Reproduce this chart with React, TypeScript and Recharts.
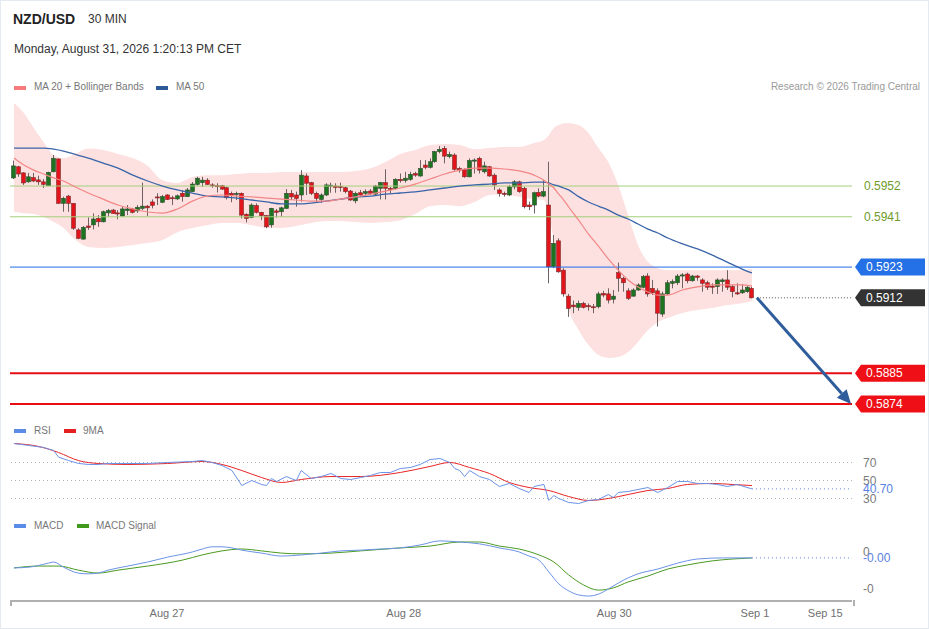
import React from 'react';
import { ComposedChart, Bar, Line, Area, XAxis, YAxis, ReferenceLine } from 'recharts';

const FONT = '"Liberation Sans", Arial, Helvetica, sans-serif';

// 30 min candles, oldest first
const opens = [
  0.59549, 0.59589, 0.59567, 0.59535, 0.5955, 0.59542, 0.59535, 0.59521, 0.59571, 0.59617,
  0.59458, 0.59484, 0.59458, 0.59363, 0.5933, 0.59377, 0.59381, 0.59404, 0.59392, 0.59424,
  0.59434, 0.59424, 0.59413, 0.59432, 0.59438, 0.59431, 0.5944, 0.59448, 0.59463, 0.59481,
  0.59462, 0.59488, 0.59478, 0.59474, 0.59494, 0.59482, 0.595, 0.59526, 0.59532, 0.59541,
  0.59524, 0.59521, 0.59521, 0.59514, 0.59494, 0.5949, 0.59494, 0.59419, 0.59408, 0.5945,
  0.59426, 0.59414, 0.59381, 0.59431, 0.59428, 0.5944, 0.59494, 0.59488, 0.59488, 0.59556,
  0.59532, 0.59494, 0.59472, 0.59488, 0.5952, 0.5952, 0.59519, 0.59514, 0.59502, 0.59467,
  0.59496, 0.59494, 0.59502, 0.59491, 0.59512, 0.59532, 0.59512, 0.59512, 0.59544, 0.5954,
  0.59544, 0.59565, 0.59556, 0.59595, 0.59587, 0.59607, 0.59643, 0.59655, 0.59625, 0.59631,
  0.59583, 0.5958, 0.59553, 0.59609, 0.59619, 0.59571, 0.59589, 0.59559, 0.59506, 0.59494,
  0.59488, 0.59517, 0.59535, 0.59512, 0.59452, 0.59452, 0.59497, 0.59484, 0.59452, 0.59231,
  0.59324, 0.59219, 0.59126, 0.59094, 0.59086, 0.591, 0.59092, 0.59088, 0.59088, 0.59136,
  0.59134, 0.59115, 0.5921, 0.5919, 0.59145, 0.59126, 0.59148, 0.59158, 0.59198, 0.59154,
  0.59145, 0.59062, 0.59134, 0.59172, 0.59174, 0.59198, 0.59205, 0.59181, 0.59198, 0.59184,
  0.59174, 0.59162, 0.5916, 0.59178, 0.59184, 0.5916, 0.59138, 0.59138, 0.59142, 0.59154,
];
const highs = [
  0.59611, 0.59592, 0.5957, 0.59567, 0.59567, 0.59557, 0.59545, 0.59571, 0.59631, 0.59618,
  0.59482, 0.59488, 0.59459, 0.59369, 0.59377, 0.59408, 0.59422, 0.59416, 0.59432, 0.59438,
  0.59438, 0.59434, 0.59446, 0.59452, 0.59442, 0.59452, 0.59532, 0.59452, 0.59472, 0.59494,
  0.59488, 0.59491, 0.59485, 0.5949, 0.59506, 0.59513, 0.59534, 0.59553, 0.59553, 0.59548,
  0.5953, 0.5953, 0.59524, 0.59517, 0.595, 0.595, 0.59497, 0.59422, 0.59458, 0.59458,
  0.59428, 0.59416, 0.59442, 0.59438, 0.59446, 0.59509, 0.59506, 0.595, 0.59577, 0.59565,
  0.59535, 0.595, 0.59494, 0.5953, 0.59532, 0.5953, 0.59532, 0.59517, 0.59506, 0.595,
  0.59506, 0.59508, 0.59509, 0.59524, 0.59535, 0.5958, 0.59517, 0.59548, 0.59565, 0.59571,
  0.59571, 0.59571, 0.59613, 0.59613, 0.59619, 0.59646, 0.59663, 0.59663, 0.59643, 0.59637,
  0.59589, 0.59583, 0.59619, 0.59619, 0.59625, 0.59607, 0.59592, 0.59565, 0.59512, 0.595,
  0.59524, 0.59541, 0.59539, 0.59517, 0.59464, 0.595, 0.59512, 0.59541, 0.59607, 0.59345,
  0.59333, 0.59226, 0.59134, 0.5911, 0.5911, 0.59106, 0.591, 0.59098, 0.59142, 0.59145,
  0.59154, 0.59148, 0.59246, 0.59196, 0.59154, 0.59154, 0.59172, 0.59202, 0.59208, 0.59184,
  0.59154, 0.59142, 0.59184, 0.59186, 0.59205, 0.59208, 0.5921, 0.59202, 0.59202, 0.5919,
  0.59181, 0.59172, 0.5919, 0.5919, 0.59219, 0.59166, 0.59172, 0.59169, 0.59162, 0.5916,
];
const lows = [
  0.59545, 0.59553, 0.59524, 0.59532, 0.59534, 0.59524, 0.59513, 0.59521, 0.59569, 0.59456,
  0.59428, 0.59428, 0.59363, 0.5933, 0.59329, 0.59363, 0.59365, 0.59374, 0.5939, 0.5941,
  0.5942, 0.59401, 0.5941, 0.59416, 0.59422, 0.59424, 0.59434, 0.59413, 0.5944, 0.59452,
  0.59459, 0.5947, 0.59452, 0.5947, 0.59464, 0.59481, 0.59499, 0.59521, 0.59517, 0.59524,
  0.59514, 0.59497, 0.59506, 0.59472, 0.59462, 0.5947, 0.59404, 0.5939, 0.59405, 0.59422,
  0.59398, 0.59369, 0.59371, 0.59407, 0.5941, 0.59438, 0.5947, 0.59446, 0.59464, 0.59488,
  0.59488, 0.59464, 0.5946, 0.59484, 0.59496, 0.59496, 0.595, 0.59494, 0.59467, 0.59458,
  0.59484, 0.59484, 0.59488, 0.59488, 0.59472, 0.59472, 0.59494, 0.59508, 0.59532, 0.59532,
  0.59539, 0.59553, 0.59553, 0.5958, 0.59583, 0.59603, 0.59637, 0.59601, 0.59619, 0.59575,
  0.59568, 0.5955, 0.59551, 0.59565, 0.59565, 0.59565, 0.59553, 0.59506, 0.59482, 0.59482,
  0.59484, 0.59508, 0.59496, 0.5944, 0.59434, 0.59422, 0.5948, 0.5948, 0.59172, 0.59226,
  0.5921, 0.59124, 0.59052, 0.59065, 0.59074, 0.59082, 0.59074, 0.59065, 0.59082, 0.59122,
  0.591, 0.591, 0.59142, 0.59142, 0.59112, 0.59124, 0.59145, 0.59154, 0.59124, 0.5913,
  0.59017, 0.59052, 0.5913, 0.59154, 0.59166, 0.59154, 0.59172, 0.59178, 0.59181, 0.59142,
  0.59148, 0.59134, 0.59134, 0.59142, 0.59148, 0.59122, 0.5913, 0.59134, 0.59138, 0.59118,
];
const closes = [
  0.59592, 0.59563, 0.59531, 0.59553, 0.59538, 0.59535, 0.59526, 0.59569, 0.59619, 0.59458,
  0.59476, 0.59458, 0.59369, 0.59333, 0.59372, 0.59372, 0.59402, 0.59392, 0.59428, 0.59432,
  0.59422, 0.5942, 0.59438, 0.59438, 0.59426, 0.59444, 0.59448, 0.59442, 0.59451, 0.59478,
  0.59482, 0.59472, 0.59476, 0.59485, 0.59482, 0.59506, 0.59527, 0.59548, 0.59541, 0.59526,
  0.59521, 0.59519, 0.59509, 0.59478, 0.59488, 0.59494, 0.59416, 0.59404, 0.59452, 0.59426,
  0.59414, 0.59374, 0.5944, 0.59426, 0.59442, 0.59494, 0.59481, 0.59476, 0.59559, 0.5953,
  0.59494, 0.59476, 0.59488, 0.59524, 0.59523, 0.59515, 0.59515, 0.595, 0.5947, 0.59494,
  0.59488, 0.595, 0.59494, 0.5952, 0.59532, 0.59512, 0.59508, 0.59544, 0.59539, 0.59548,
  0.59562, 0.59559, 0.59583, 0.59587, 0.59607, 0.59643, 0.59651, 0.59627, 0.59633, 0.5958,
  0.59577, 0.59553, 0.59611, 0.59613, 0.59577, 0.59592, 0.59556, 0.59524, 0.59494, 0.5949,
  0.59517, 0.59535, 0.595, 0.59446, 0.59446, 0.59496, 0.59484, 0.595, 0.59231, 0.59315,
  0.59213, 0.59134, 0.59082, 0.59088, 0.591, 0.59086, 0.59088, 0.59085, 0.59134, 0.5913,
  0.59112, 0.59126, 0.5919, 0.59174, 0.59118, 0.59148, 0.59166, 0.59196, 0.59134, 0.59138,
  0.59065, 0.59134, 0.59174, 0.59178, 0.59198, 0.59202, 0.59181, 0.59198, 0.59193, 0.59172,
  0.59158, 0.59158, 0.59184, 0.59184, 0.59158, 0.59142, 0.59134, 0.59148, 0.59158, 0.5912,
];

// MA 20, Bollinger bands and MA 50, read at these candle indices
const bandIdx = [
  0, 2, 4, 6, 8, 10, 12, 15, 18, 21, 24, 27, 30, 33, 36, 39, 42, 45, 48, 51,
  54, 57, 60, 63, 66, 69, 72, 75, 78, 81, 84, 87, 90, 93, 96, 99, 102, 105, 107, 108,
  109, 110, 111, 112, 114, 116, 118, 120, 122, 124, 126, 128, 130, 132, 135, 138, 141, 144, 147, 149,
];
const bbUpper = [
  0.59817, 0.59781, 0.59728, 0.59677, 0.59631, 0.5962, 0.59631, 0.59654, 0.59649, 0.59635,
  0.5962, 0.59592, 0.59541, 0.59531, 0.59552, 0.59559, 0.59559, 0.59563, 0.59567, 0.59567,
  0.5957, 0.5957, 0.5957, 0.5957, 0.5957, 0.59574, 0.59584, 0.59606, 0.59635, 0.59649,
  0.59667, 0.5967, 0.59667, 0.59652, 0.59656, 0.5966, 0.5966, 0.59674, 0.59685, 0.59703,
  0.59728, 0.59738, 0.59745, 0.59745, 0.59738, 0.5971, 0.59656, 0.59606, 0.59524, 0.59416,
  0.59309, 0.59248, 0.59227, 0.59219, 0.59219, 0.59219, 0.59219, 0.59219, 0.59219, 0.59223,
];
const bbLower = [
  0.59427, 0.59423, 0.5942, 0.59409, 0.59391, 0.5937, 0.59334, 0.59302, 0.59298, 0.59302,
  0.59309, 0.59316, 0.59327, 0.59355, 0.5937, 0.5938, 0.59388, 0.59388, 0.5938, 0.5937,
  0.5937, 0.59377, 0.59388, 0.59395, 0.59395, 0.59391, 0.59388, 0.59391, 0.59398, 0.5942,
  0.59448, 0.59452, 0.59448, 0.59463, 0.59488, 0.59491, 0.59481, 0.59473, 0.5947, 0.59416,
  0.59327, 0.59237, 0.59148, 0.59076, 0.59005, 0.58951, 0.58915, 0.58905, 0.58908, 0.58926,
  0.58962, 0.59005, 0.59033, 0.59048, 0.59066, 0.59076, 0.59084, 0.59094, 0.59101, 0.59109,
];
const ma20 = [
  0.5962, 0.59595, 0.59577, 0.59563, 0.59549, 0.59538, 0.5952, 0.59495, 0.59473, 0.59452,
  0.59438, 0.59427, 0.59423, 0.59438, 0.59466, 0.59484, 0.59488, 0.59484, 0.59481, 0.59477,
  0.59473, 0.5947, 0.59466, 0.59466, 0.59473, 0.59481, 0.59491, 0.59502, 0.59513, 0.59527,
  0.59545, 0.59563, 0.59577, 0.59584, 0.59584, 0.59581, 0.59574, 0.59559, 0.59541, 0.59527,
  0.59513, 0.59491, 0.5947, 0.59445, 0.59398, 0.59348, 0.59305, 0.59259, 0.59219, 0.59184,
  0.59159, 0.59141, 0.5913, 0.5913, 0.59148, 0.59159, 0.59166, 0.59166, 0.59166, 0.59162,
];
const ma50 = [
  0.59656, 0.59656, 0.59656, 0.59656, 0.59652, 0.59645, 0.59635, 0.5962, 0.59602, 0.59584,
  0.59559, 0.59538, 0.5952, 0.59506, 0.59495, 0.59484, 0.59481, 0.59477, 0.5947, 0.59463,
  0.59456, 0.59456, 0.59459, 0.59466, 0.59473, 0.59481, 0.59484, 0.59491, 0.59495, 0.59499,
  0.59506, 0.59513, 0.5952, 0.59524, 0.59527, 0.59531, 0.59531, 0.59534, 0.59534, 0.59531,
  0.59524, 0.5952, 0.59513, 0.59506, 0.59482, 0.59463, 0.59448, 0.59434, 0.59416, 0.59402,
  0.59384, 0.59366, 0.59352, 0.59334, 0.59313, 0.59295, 0.59273, 0.59248, 0.59223, 0.59209,
];

// RSI and its 9 period average
const rsiIdx = [
  0, 3, 6, 8, 9, 11, 13, 15, 17, 19, 23, 27, 31, 36, 38, 40, 42, 44, 46, 48,
  50, 51, 52, 53, 55, 57, 58, 60, 62, 64, 66, 68, 70, 72, 74, 76, 78, 80, 82, 84,
  86, 88, 89, 90, 91, 92, 94, 96, 98, 100, 102, 104, 105, 107, 108, 109, 110, 112, 114, 116,
  118, 120, 121, 122, 124, 126, 128, 130, 132, 134, 136, 138, 140, 142, 144, 146, 149,
];
const rsiVals = [
  91.1, 88.9, 86.7, 83.3, 76, 72.2, 69, 67.8, 67.8, 68.9, 68.9, 68.9, 70, 71.1, 72.2, 70, 66.7, 61.1, 44.4, 50,
  45.6, 44.4, 52.2, 48.9, 54.4, 50, 61.1, 52.2, 54.4, 57.8, 52.2, 51.1, 53.3, 55.6, 58.9, 58.9, 63.3, 64.4, 67.8, 73.3,
  74.4, 70, 63.3, 61.1, 54.4, 61.1, 54.4, 51.1, 43.3, 46.7, 41.1, 36.7, 43.3, 45.6, 27.8, 33.3, 30, 25.6, 24.4, 27.8,
  28.9, 34.4, 31.1, 36.7, 37.8, 40, 42.2, 36.7, 42.2, 48.9, 48.9, 46.7, 46.7, 45.6, 43.3, 45.6, 40.7,
];
const rsiMaIdx = [
  0, 5, 9, 13, 17, 23, 31, 38, 42, 46, 50, 54, 58, 64, 70, 78, 84, 88, 92, 96,
  100, 104, 108, 112, 116, 120, 124, 128, 132, 136, 141, 145, 149,
];
const rsiMaVals = [
  91.1, 87.8, 81.1, 72.2, 68.9, 67.8, 68.9, 71.1, 67.8, 61.1, 53.3, 47.8, 51.1, 54.4, 54.4, 58.9, 65.6, 70, 64.4, 57.8,
  47.8, 42.2, 38.9, 32.2, 27.8, 30, 34.4, 38.9, 41.1, 45.6, 46.7, 45.6, 44.4,
];
const rsiLevels = [70, 50, 30];

// MACD and signal line
const macdIdx = [
  0, 3, 7, 8, 10, 13, 15, 17, 19, 23, 27, 31, 36, 38, 40, 42, 44, 46, 50, 54,
  58, 62, 66, 70, 74, 78, 82, 86, 90, 94, 98, 102, 104, 106, 108, 110, 112, 114, 116, 118,
  120, 122, 124, 126, 130, 134, 138, 143, 147, 149,
];
const macdVals = [
  -0.00043, -0.00041, -0.0003, -0.00027, -0.00041, -0.00057, -0.00059, -0.00057, -0.00049, -0.00038,
  -0.00027, -0.00014, 0, 0.00008, 0.00014, 0.00014, 0.00011, 0.00005, -0.00003, -0.00011,
  -0.00008, -0.00003, 0.00003, 0.00005, 0.00008, 0.00011, 0.00019, 0.0003, 0.00027, 0.00022,
  0.00011, 0, -0.00011, -0.00022, -0.00054, -0.00086, -0.00105, -0.00116, -0.00119, -0.00114,
  -0.001, -0.00084, -0.0007, -0.00059, -0.00046, -0.0003, -0.00019, -0.00016, -0.00016, -0.00016,
];
const signalIdx = [
  0, 5, 9, 13, 17, 21, 27, 34, 38, 42, 46, 50, 54, 58, 64, 70, 78, 84, 90, 94,
  98, 102, 106, 109, 112, 115, 118, 121, 124, 128, 132, 136, 141, 145, 149,
];
const signalVals = [
  -0.00043, -0.00038, -0.00038, -0.00049, -0.00057, -0.00049, -0.00038, -0.00022, -0.00008, 0.00003,
  0.00008, 0.00003, -0.00003, -0.00005, -0.00003, 0.00003, 0.00011, 0.00016, 0.00027, 0.00027,
  0.00016, 0.00008, -0.00008, -0.00027, -0.00062, -0.00089, -0.00103, -0.00097, -0.00081, -0.00065,
  -0.00046, -0.00035, -0.00024, -0.00019, -0.00016,
];

// right side price levels
const levelValues = [0.5952, 0.5941, 0.5923, 0.5912, 0.5885, 0.5874];
const levelKinds = ['resist', 'resist', 'pivot', 'last', 'target', 'target'];
const targetPrice = 0.5874;

// time axis
const dayTicks = [30.9, 78.7, 121.2, 149.6, 163.8];
const dayLabels = ['Aug 27', 'Aug 28', 'Aug 30', 'Sep 1', 'Sep 15'];

const X_DOMAIN: [number, number] = [-0.8, 169.2];
const LAST = opens.length - 1;

const rows: any[] = opens.map((o, i) => ({ i, open: o, high: highs[i], low: lows[i], close: closes[i] }));
bandIdx.forEach((k, j) => {
  rows[k].band = [bbLower[j], bbUpper[j]];
  rows[k].ma20 = ma20[j];
  rows[k].ma50 = ma50[j];
});
rsiIdx.forEach((k, j) => { rows[k].rsi = rsiVals[j]; });
rsiMaIdx.forEach((k, j) => { rows[k].rsiMa = rsiMaVals[j]; });
macdIdx.forEach((k, j) => { rows[k].macd = macdVals[j]; });
signalIdx.forEach((k, j) => { rows[k].signal = signalVals[j]; });

const lastRsi = rsiVals[rsiVals.length - 1];
const lastMacd = macdVals[macdVals.length - 1];

const levelStyle: Record<string, any> = {
  resist: { line: '#a3d07a', width: 1, box: null, text: '#6f9c2b' },
  pivot: { line: '#1f6de8', width: 1, box: '#2470e6', text: '#fff' },
  last: { line: null, width: 1, box: '#333333', text: '#fff' },
  target: { line: '#e80d14', width: 2, box: '#ee1016', text: '#fff' },
};

const Candle = (p: any) => {
  const { x, y, width, height, payload } = p;
  if (!payload || height == null || isNaN(y)) return null;
  const top = Math.min(y, y + height);
  const h = Math.abs(height);
  const { open, close, high, low } = payload;
  const span = high - low || 1e-9;
  const py = (v: number) => top + ((high - v) / span) * h;
  const cx = Math.round(x + width / 2) + 0.5;
  const up = close >= open;
  const b1 = py(Math.max(open, close));
  const b2 = py(Math.min(open, close));
  return (
    <g>
      <line x1={cx} x2={cx} y1={top} y2={top + h} stroke="#6e6262" strokeWidth={1} />
      <rect
        x={cx - 2}
        y={b1}
        width={4}
        height={Math.max(1, b2 - b1)}
        fill={up ? '#1d7420' : '#e3141b'}
        stroke={up ? '#2f4a2f' : '#7a2b2b'}
        strokeWidth={0.6}
      />
    </g>
  );
};

const PriceTag = (p: any) => {
  const { y, payload } = p;
  const idx = levelValues.indexOf(payload.value);
  const st = levelStyle[levelKinds[idx]];
  const label = payload.value.toFixed(4);
  if (!st.box) {
    return (
      <text x={864} y={y} dy={4} fontSize={12} fill={st.text} fontFamily={FONT}>
        {label}
      </text>
    );
  }
  const x0 = 855;
  const d = `M${x0},${y} L${x0 + 6},${y - 8.5} L925,${y - 8.5} L925,${y + 8.5} L${x0 + 6},${y + 8.5} Z`;
  return (
    <g>
      <path d={d} fill={st.box} />
      <text x={866} y={y} dy={4} fontSize={12} fill={st.text} fontFamily={FONT}>
        {label}
      </text>
    </g>
  );
};

const RsiTick = (p: any) => {
  const { y, payload } = p;
  const cur = payload.value === lastRsi;
  return (
    <text x={863} y={y} dy={4} fontSize={12} fill={cur ? '#5a7fe0' : '#7a7a7a'} fontFamily={FONT}>
      {cur ? payload.value.toFixed(2) : payload.value}
    </text>
  );
};

const MacdTick = (p: any) => {
  const { y, payload } = p;
  const cur = payload.value === lastMacd;
  return (
    <text x={863} y={y} dy={4} fontSize={12} fill={cur ? '#5a7fe0' : '#7a7a7a'} fontFamily={FONT}>
      {cur ? payload.value.toFixed(2) : payload.value.toFixed(0)}
    </text>
  );
};

const Arrow = (p: any) => {
  const { x1, y1, x2, y2 } = p;
  const ang = Math.atan2(y2 - y1, x2 - x1);
  const len = 14;
  const half = 6.5;
  const bx = x2 - len * Math.cos(ang);
  const by = y2 - len * Math.sin(ang);
  const px = -Math.sin(ang) * half;
  const py = Math.cos(ang) * half;
  return (
    <g>
      <line x1={x1} y1={y1} x2={bx} y2={by} stroke="#2f5d9b" strokeWidth={3} />
      <polygon points={`${x2},${y2} ${bx + px},${by + py} ${bx - px},${by - py}`} fill="#2f5d9b" />
    </g>
  );
};

const Swatch = ({ x, y, color }: { x: number; y: number; color: string }) => (
  <div style={{ position: 'absolute', left: x, top: y, width: 12, height: 4, background: color }} />
);

const Txt = ({ x, y, size, color, bold, children }: any) => (
  <div
    style={{
      position: 'absolute', left: x, top: y, fontSize: size, color, fontWeight: bold ? 700 : 400,
      whiteSpace: 'nowrap', lineHeight: 1,
    }}
  >
    {children}
  </div>
);

export default function App() {
  return (
    <div
      style={{
        position: 'absolute', left: 0, top: 0, width: 929, height: 629, background: '#fff',
        border: '1px solid #e4eaef', boxSizing: 'border-box', fontFamily: FONT, overflow: 'hidden',
      }}
    >
      <Txt x={12} y={11} size={14} color="#222" bold>NZD/USD</Txt>
      <Txt x={87} y={12} size={12} color="#333">30 MIN</Txt>
      <Txt x={13} y={42} size={12} color="#333">Monday, August 31, 2026 1:20:13 PM CET</Txt>

      <Swatch x={13} y={85} color="#f77b7b" />
      <Txt x={33} y={81} size={10} color="#777">MA 20 + Bollinger Bands</Txt>
      <Swatch x={155} y={85} color="#2f5a9a" />
      <Txt x={175} y={81} size={10} color="#777">MA 50</Txt>
      <div style={{ position: 'absolute', right: 8, top: 81, fontSize: 10, color: '#9a9a9a', lineHeight: 1 }}>
        Research © 2026 Trading Central
      </div>

      <div style={{ position: 'absolute', left: -1, top: 97 }}>
        <ComposedChart width={929} height={320} data={rows} margin={{ top: 0, right: 0, bottom: 0, left: 10 }}>
          <XAxis dataKey="i" type="number" domain={X_DOMAIN} allowDataOverflow hide />
          <YAxis
            orientation="right"
            width={77}
            type="number"
            domain={[0.5869, 0.59835]}
            allowDataOverflow
            ticks={levelValues}
            interval={0}
            axisLine={false}
            tickLine={false}
            tick={<PriceTag />}
          />
          <Area
            dataKey="band"
            type="monotone"
            fill="#fde1e1"
            fillOpacity={1}
            stroke="none"
            connectNulls
            isAnimationActive={false}
          />
          {levelValues.map((v, idx) => {
            const st = levelStyle[levelKinds[idx]];
            return st.line ? (
              <ReferenceLine key={v} y={v} stroke={st.line} strokeWidth={st.width} />
            ) : null;
          })}
          <ReferenceLine
            segment={[{ x: LAST + 1, y: closes[LAST] }, { x: X_DOMAIN[1], y: closes[LAST] }]}
            stroke="#555"
            strokeDasharray="1 2"
          />
          <Line dataKey="ma50" type="monotone" stroke="#3a64a8" strokeWidth={1.3} dot={false} connectNulls isAnimationActive={false} />
          <Line dataKey="ma20" type="monotone" stroke="#f28585" strokeWidth={1.2} dot={false} connectNulls isAnimationActive={false} />
          <Bar dataKey={(d: any) => [d.low, d.high]} barSize={4} shape={<Candle />} isAnimationActive={false} />
          <ReferenceLine
            segment={[{ x: LAST + 1, y: closes[LAST] }, { x: 169, y: targetPrice }]}
            shape={<Arrow />}
          />
        </ComposedChart>
      </div>

      <Swatch x={13} y={428} color="#5b8de8" />
      <Txt x={33} y={425} size={10} color="#777">RSI</Txt>
      <Swatch x={63} y={428} color="#e52020" />
      <Txt x={82} y={425} size={10} color="#777">9MA</Txt>

      <div style={{ position: 'absolute', left: -1, top: 438.5 }}>
        <ComposedChart width={929} height={67.5} data={rows} margin={{ top: 0, right: 0, bottom: 0, left: 10 }}>
          <XAxis dataKey="i" type="number" domain={X_DOMAIN} allowDataOverflow hide />
          <YAxis
            orientation="right"
            width={77}
            type="number"
            domain={[20, 95]}
            allowDataOverflow
            ticks={[70, 50, lastRsi, 30]}
            interval={0}
            axisLine={false}
            tickLine={false}
            tick={<RsiTick />}
          />
          {rsiLevels.map((v) => (
            <ReferenceLine key={v} y={v} stroke="#b5b5b5" strokeDasharray="1 3" />
          ))}
          <ReferenceLine
            segment={[{ x: LAST, y: lastRsi }, { x: X_DOMAIN[1], y: lastRsi }]}
            stroke="#5a7fe0"
            strokeDasharray="1 3"
          />
          <Line dataKey="rsiMa" type="monotone" stroke="#e82424" strokeWidth={1} dot={false} connectNulls isAnimationActive={false} />
          <Line dataKey="rsi" type="linear" stroke="#6b93e6" strokeWidth={1} dot={false} connectNulls isAnimationActive={false} />
        </ComposedChart>
      </div>

      <Swatch x={13} y={523} color="#5b8de8" />
      <Txt x={33} y={520} size={10} color="#777">MACD</Txt>
      <Swatch x={76} y={523} color="#3f9a1c" />
      <Txt x={95} y={520} size={10} color="#777">MACD Signal</Txt>

      <div style={{ position: 'absolute', left: -1, top: 537 }}>
        <ComposedChart width={929} height={88} data={rows} margin={{ top: 0, right: 0, bottom: 0, left: 10 }}>
          <XAxis
            dataKey="i"
            type="number"
            domain={X_DOMAIN}
            allowDataOverflow
            ticks={dayTicks}
            interval={0}
            tickFormatter={(v: number) => dayLabels[dayTicks.indexOf(v)]}
            height={25}
            axisLine={{ stroke: '#b0b0b0', strokeWidth: 2 }}
            tickLine={false}
            tick={{ fill: '#707070', fontSize: 11, fontFamily: FONT }}
          />
          <YAxis
            orientation="right"
            width={77}
            type="number"
            domain={[-0.001324, 0.000378]}
            allowDataOverflow
            ticks={[0, lastMacd, -0.001]}
            interval={0}
            axisLine={false}
            tickLine={false}
            tick={<MacdTick />}
          />
          <ReferenceLine
            segment={[{ x: LAST, y: lastMacd }, { x: X_DOMAIN[1], y: lastMacd }]}
            stroke="#5a7fe0"
            strokeDasharray="1 3"
          />
          <Line dataKey="signal" type="monotone" stroke="#4a9a22" strokeWidth={1} dot={false} connectNulls isAnimationActive={false} />
          <Line dataKey="macd" type="monotone" stroke="#6b93e6" strokeWidth={1} dot={false} connectNulls isAnimationActive={false} />
        </ComposedChart>
      </div>
      <div style={{ position: 'absolute', left: 9, top: 599, width: 2, height: 6, background: '#b0b0b0' }} />
      <div style={{ position: 'absolute', left: 852, top: 599, width: 2, height: 6, background: '#b0b0b0' }} />
    </div>
  );
}
